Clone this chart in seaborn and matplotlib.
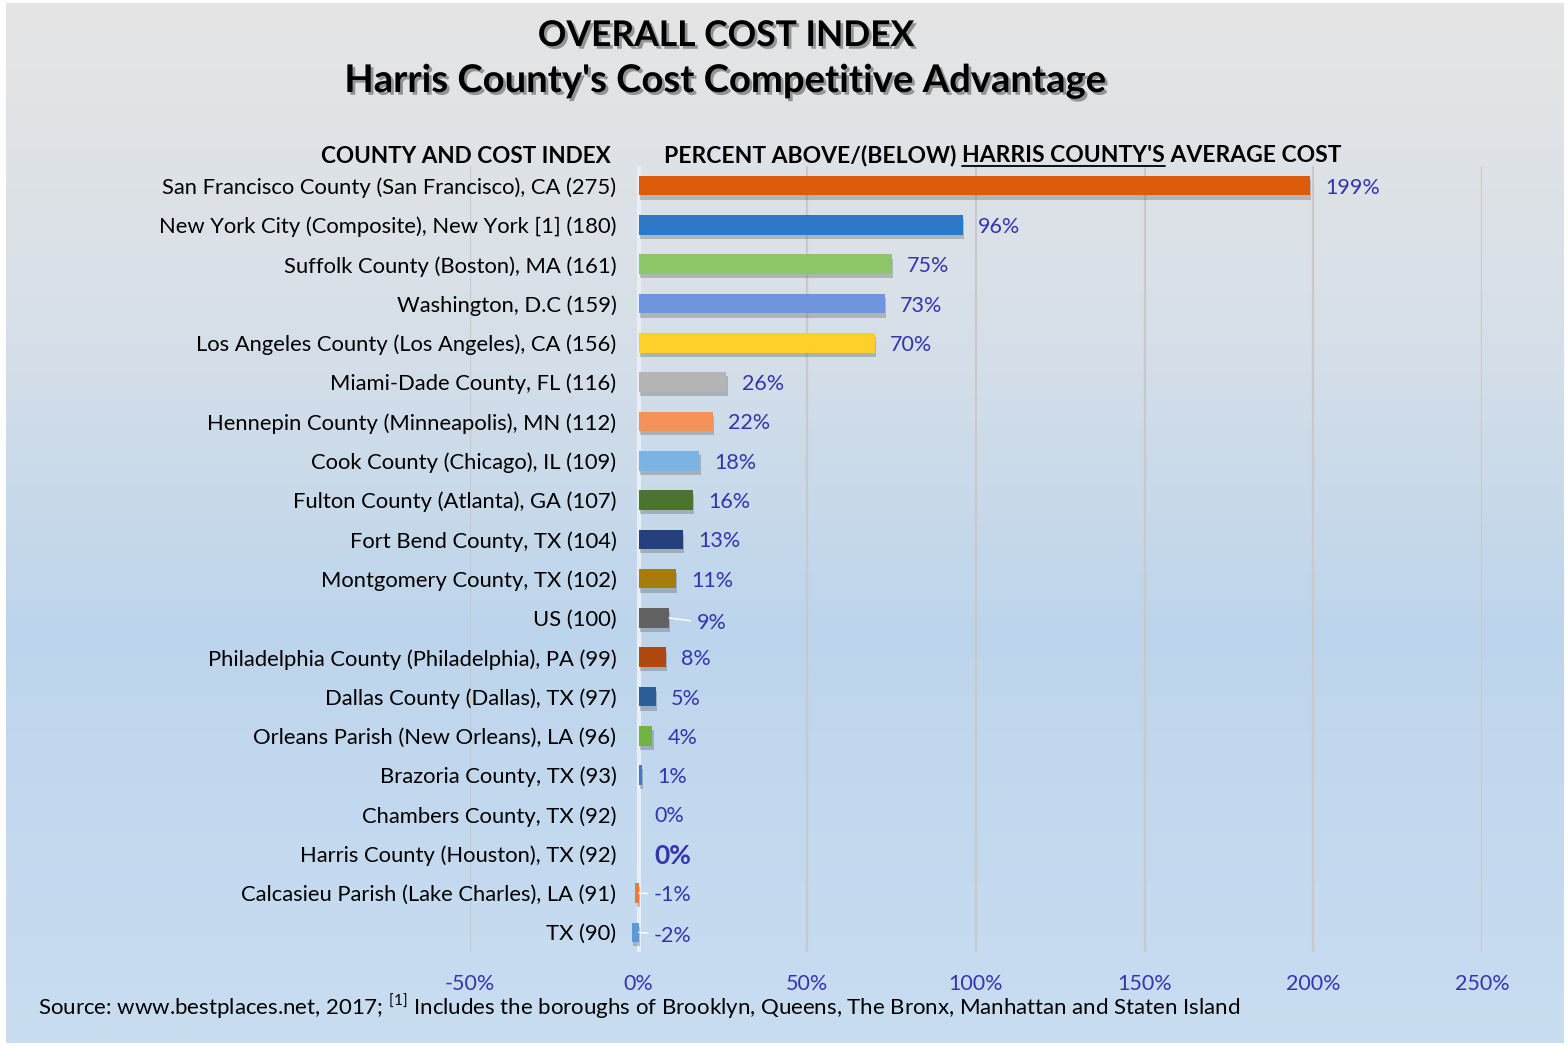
import numpy as np
import pandas as pd
import seaborn as sns
import matplotlib.pyplot as plt
import matplotlib.patheffects as pe
from matplotlib.colors import LinearSegmentedColormap

# data
counties = [
    "San Francisco County (San Francisco), CA (275)",
    "New York City (Composite), New York [1] (180)",
    "Suffolk County (Boston), MA (161)",
    "Washington, D.C (159)",
    "Los Angeles County (Los Angeles), CA (156)",
    "Miami-Dade County, FL (116)",
    "Hennepin County (Minneapolis), MN (112)",
    "Cook County (Chicago), IL (109)",
    "Fulton County (Atlanta), GA (107)",
    "Fort Bend County, TX (104)",
    "Montgomery County, TX (102)",
    "US (100)",
    "Philadelphia County (Philadelphia), PA (99)",
    "Dallas County (Dallas), TX (97)",
    "Orleans Parish (New Orleans), LA (96)",
    "Brazoria County, TX (93)",
    "Chambers County, TX (92)",
    "Harris County (Houston), TX (92)",
    "Calcasieu Parish (Lake Charles), LA (91)",
    "TX (90)",
]
pct_diff = [199, 96, 75, 73, 70, 26, 22, 18, 16, 13, 11, 9, 8, 5, 4, 1, 0, 0, -1, -2]
bar_colors = [
    "#dc5c0c", "#2e78c8", "#8cc666", "#6f96dc", "#ffcf2a", "#b4b4b4", "#f4925a",
    "#7ab4e4", "#4a7430", "#25407c", "#a67c0c", "#626262", "#b0480f", "#2c5e98",
    "#72b444", "#4a74c8", "#888888", "#888888", "#f07a28", "#5b9bd5",
]
x_ticks = [-50, 0, 50, 100, 150, 200, 250]

df = pd.DataFrame({"county": counties, "pct": pct_diff})

W, H = 1568, 1046
sns.set_theme(style="white")
plt.rcParams['font.family'] = ['Lato', 'DejaVu Sans']
plt.rcParams['mathtext.fontset'] = 'custom'
plt.rcParams['mathtext.rm'] = 'Lato'

fig = plt.figure(figsize=(W / 100, H / 100), dpi=100, facecolor='white')

# gradient background panel (gray at top -> light blue at bottom)
bg = fig.add_axes([6 / W, 3 / H, 1558 / W, 1040 / H], zorder=0)
grad = np.linspace(0, 1, 256).reshape(-1, 1)
bg_cmap = LinearSegmentedColormap.from_list(
    'bg', [(0, '#e5e5e5'), (0.3, '#d8e0e8'), (0.6, '#bdd5ec'), (1, '#c9ddf1')])
bg.imshow(grad, aspect='auto', cmap=bg_cmap, extent=[0, 1, 0, 1])
bg.axis('off')

ax = fig.add_axes([470 / W, 1 - 952 / H, 1012 / W, 786 / H], zorder=1)
ax.patch.set_alpha(0)
sns.barplot(data=df, x='pct', y='county', hue='county', palette=bar_colors,
            legend=False, orient='h', width=0.5, saturation=1, ax=ax)

for p in ax.patches:
    p.set_linewidth(0)
    p.set_path_effects([pe.SimplePatchShadow(offset=(1, -3), shadow_rgbFace='#333333', alpha=0.25),
                        pe.Normal()])

ax.set_xlim(-50, 250)
ax.set_ylim(19.5, -0.5)
ax.set_xticks(x_ticks)
ax.set_xticklabels([f"{t}%" for t in x_ticks])
ax.xaxis.grid(True, color='#c9c9c9', lw=1.6)
ax.yaxis.grid(False)
ax.set_axisbelow(True)
ax.axvline(0, color='#e9eef4', lw=3, zorder=0.8)
for s in ax.spines.values():
    s.set_visible(False)
ax.spines['left'].set_position(('data', 0))
ax.tick_params(axis='y', length=0, pad=16, labelsize=15.8, labelcolor='black')
ax.tick_params(axis='x', length=0, pad=16, labelsize=15.5, labelcolor='#3535b2')
ax.set_xlabel('')
ax.set_ylabel('')

label_color = '#3434b0'
for i, v in enumerate(pct_diff):
    x0 = max(v, 0)
    txt = f"{v}%"
    if counties[i].startswith("Harris"):
        ax.annotate(txt, (0, i), xytext=(11, 0), textcoords='offset points',
                    ha='left', va='center_baseline', fontsize=19, fontweight='bold', color=label_color)
    elif counties[i].startswith("US"):
        ax.annotate(txt, (x0, i), xytext=(20, -2.5), textcoords='offset points',
                    ha='left', va='center_baseline', fontsize=15.5, color=label_color,
                    arrowprops=dict(arrowstyle='-', color='white', lw=1, shrinkA=2, shrinkB=0))
    elif v < 0:
        ax.annotate(txt, (0, i), xytext=(11, -1 if v == -2 else 0), textcoords='offset points',
                    ha='left', va='center_baseline', fontsize=15.5, color=label_color,
                    arrowprops=dict(arrowstyle='-', color='white', lw=1, shrinkA=2, shrinkB=0))
    else:
        ax.annotate(txt, (x0, i), xytext=(11, 0), textcoords='offset points',
                    ha='left', va='center_baseline', fontsize=15.5, color=label_color)

# titles with drop shadow
shadow = [pe.withSimplePatchShadow(offset=(2, -2), shadow_rgbFace='black', alpha=0.35)]
fig.text(726 / W, 1 - 46 / H, "OVERALL COST INDEX", ha='center', va='baseline',
         fontsize=25.5, fontweight='bold', color='black', path_effects=shadow)
fig.text(726 / W, 1 - 92 / H, "Harris County's Cost Competitive Advantage", ha='center',
         va='baseline', fontsize=27.5, fontweight='bold', color='black', path_effects=shadow)

# column headers
fig.text(611 / W, 1 - 163 / H, "COUNTY AND COST INDEX", ha='right', va='baseline',
         fontsize=16.2, fontweight='bold', color='black')

renderer = fig.canvas.get_renderer()
x_px = 664
parts = ["PERCENT ABOVE/(BELOW) ", "HARRIS COUNTY'S", " AVERAGE COST"]
for k, part in enumerate(parts):
    t = fig.text(x_px / W, 1 - 162 / H, part, ha='left', va='baseline',
                 fontsize=16.5, fontweight='bold', color='black')
    bb = t.get_window_extent(renderer)
    if k == 1:
        fig.add_artist(plt.Line2D([bb.x0 / W, bb.x1 / W], [1 - 166 / H, 1 - 166 / H],
                                  color='black', lw=1.3, transform=fig.transFigure))
    x_px = bb.x1

# footer
fig.text(38 / W, 1 - 1015 / H,
         r"Source: www.bestplaces.net, 2017; $^{[1]}$ Includes the boroughs of Brooklyn, Queens, "
         r"The Bronx, Manhattan and Staten Island",
         ha='left', va='baseline', fontsize=16, color='black')

fig.savefig('out.png', dpi=100, facecolor='white')
